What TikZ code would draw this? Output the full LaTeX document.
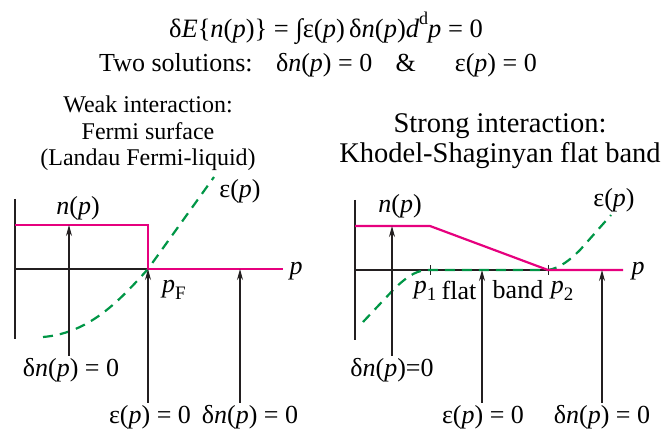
\documentclass[tikz,border=0pt]{standalone}
\usepackage{fontspec}
\setmainfont{Liberation Serif}
\usetikzlibrary{arrows.meta}
\definecolor{occpink}{RGB}{230,0,126}
\definecolor{epsgreen}{RGB}{0,150,70}
\definecolor{axisgray}{RGB}{35,31,32}
\newcommand{\ip}{\textit{p}}
\newcommand{\dnp}{δ\textit{n}(\textit{p})}
\newcommand{\epp}{ε(\textit{p})}
\newcommand{\lowsub}[1]{\raisebox{-.28em}{\fontsize{19}{19}\selectfont #1}}
\begin{document}
\begin{tikzpicture}[x=1pt,y=-1pt,line width=1.2pt,
  lbl/.style={inner sep=2pt,font=\fontsize{26}{30}\selectfont},
  head/.style={anchor=base,inner sep=0pt,font=\fontsize{24}{27}\selectfont},
  title/.style={anchor=base,inner sep=0pt,font=\fontsize{26}{30}\selectfont},
  axis/.style={draw=axisgray,line width=1.3pt},
  occ/.style={draw=occpink,line width=2.2pt},
  eps/.style={draw=epsgreen,line width=2.2pt,dash pattern=on 10pt off 7pt},
  up/.style={draw=axisgray,-{Stealth[length=11pt,width=6pt]},line width=1.3pt}]
\path[use as bounding box] (0,0) rectangle (667,433);
% title
\node[title,font=\fontsize{26.5}{30}\selectfont] (eq) at (326,38) {δ\textit{E}\{\textit{n}(\ip)\} = ∫\epp\,\dnp\textit{d}\raisebox{.5em}{\fontsize{18}{18}\selectfont d}\ip{} = 0};
\node[title] (sol) at (318,72) {Two solutions:\hspace{.9em}\dnp{} = 0\hspace{.9em}\&\hspace{1.5em}\epp{} = 0};
% headings
\node[head] (weak1) at (148,113) {Weak interaction:};
\node[head] (weak2) at (148,140) {Fermi surface};
\node[head] (weak3) at (148,166) {(Landau Fermi-liquid)};
\node[head,font=\fontsize{28.5}{32}\selectfont] (strong1) at (500,133) {Strong interaction:};
\node[head,font=\fontsize{28.5}{32}\selectfont] (strong2) at (500,163) {Khodel-Shaginyan flat band};
% left panel: Fermi liquid
\draw[axis] (15,199) -- (15,339);
\draw[axis] (15,269) -- (283,269);
\draw[eps] (43,337) .. controls (90,333) and (120,300) .. (148,269) -- (214,177);
\draw[occ] (15,225) -- (148,225) -- (148,269) -- (283,269);
\node[lbl] (nL) at (78,208) {\textit{n}(\ip)};
\node[lbl] (eL) at (240,191) {\epp};
\node[lbl] (pL) at (296,271) {\ip};
\node[lbl] (pF) at (174,290) {\ip\lowsub{F}};
\coordinate (tL1) at (69,225);
\coordinate (tL2) at (148,269);
\coordinate (tL3) at (240,269);
\node[lbl] (dL1) at (71,370) {\dnp{} = 0};
\node[lbl] (dL2) at (150,417) {\epp{} = 0};
\node[lbl] (dL3) at (250,417) {\dnp{} = 0};
\draw[up] (dL1.north -| tL1) -- (tL1);
\draw[up] (dL2.north -| tL2) -- (tL2);
\draw[up] (dL3.north -| tL3) -- (tL3);
% right panel: flat band
\draw[axis] (355,200) -- (355,340);
\draw[axis] (355,270) -- (623,270);
\draw[axis,line width=.8pt] (430,265) -- (430,275);
\draw[axis,line width=.8pt] (548,265) -- (548,275);
\draw[eps] (363,322) -- (395,288) .. controls (410,274) and (418,270) .. (430,270) -- (548,270)
  .. controls (560,268) and (570,260) .. (580,250) -- (611,215);
\draw[occ] (355,226) -- (430,226) -- (548,270) -- (623,270);
\node[lbl] (nR) at (400,206) {\textit{n}(\ip)};
\node[lbl] (eR) at (614,200) {\epp};
\node[lbl] (pR) at (638,271) {\ip};
\node[lbl] (p1) at (425,291) {\ip\lowsub{1}};
\node[lbl] (flat) at (459,290) {flat};
\node[lbl] (band) at (518,290) {band};
\node[lbl] (p2) at (562,291) {\ip\lowsub{2}};
\coordinate (tR1) at (392,226);
\coordinate (tR2) at (482,270);
\coordinate (tR3) at (602,270);
\node[lbl] (dR1) at (392,370) {\dnp=0};
\node[lbl] (dR2) at (483,417) {\epp{} = 0};
\node[lbl] (dR3) at (602,417) {\dnp{} = 0};
\draw[up] (dR1.north -| tR1) -- (tR1);
\draw[up] (dR2.north -| tR2) -- (tR2);
\draw[up] (dR3.north -| tR3) -- (tR3);
\end{tikzpicture}
\end{document}
